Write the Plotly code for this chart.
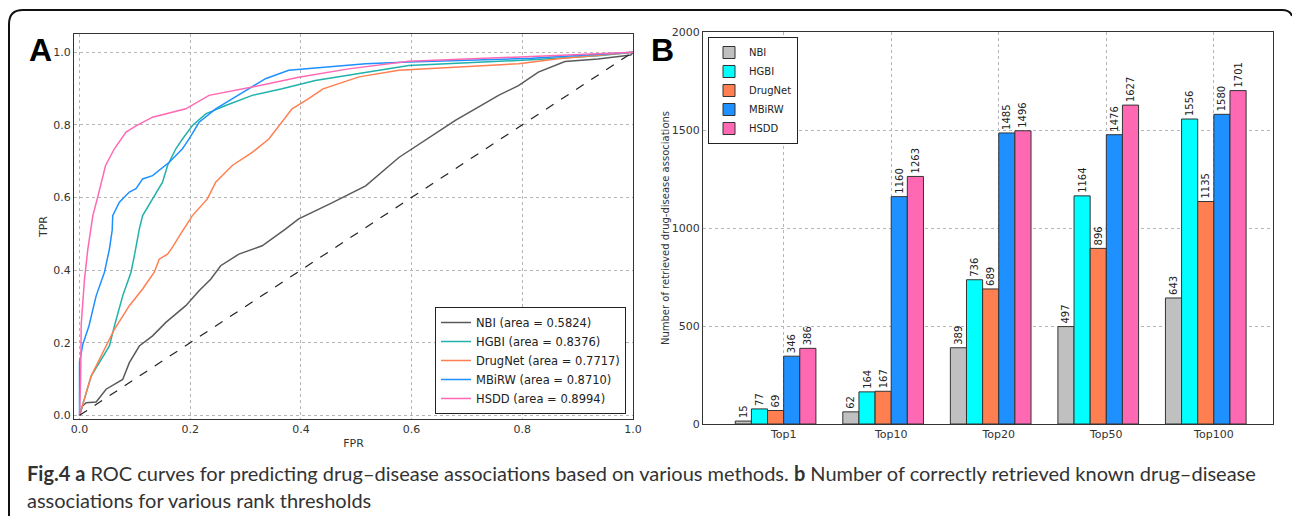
import plotly.graph_objects as go

W, H = 1292, 516

# ---------------- Panel A data (ROC curves) ----------------
NBI_FPR = [0, 0.005, 0.012, 0.030, 0.048, 0.078, 0.090, 0.108, 0.132, 0.156, 0.192, 0.216,
           0.237, 0.255, 0.288, 0.330, 0.372, 0.396, 0.456, 0.517, 0.577, 0.637, 0.679, 0.715,
           0.757, 0.793, 0.829, 0.877, 0.937, 0.996, 1.0]
NBI_TPR = [0, 0.025, 0.035, 0.037, 0.072, 0.099, 0.145, 0.191, 0.219, 0.256, 0.302, 0.343,
           0.375, 0.412, 0.444, 0.467, 0.513, 0.541, 0.585, 0.632, 0.710, 0.770, 0.812, 0.844,
           0.881, 0.908, 0.945, 0.974, 0.981, 0.992, 1.0]

HGBI_FPR = [0, 0.021, 0.054, 0.063, 0.078, 0.093, 0.099, 0.108, 0.114, 0.132, 0.150, 0.159,
            0.174, 0.186, 0.204, 0.228, 0.264, 0.312, 0.366, 0.426, 0.517, 0.595, 0.817, 0.937, 1.0]
HGBI_TPR = [0, 0.108, 0.191, 0.246, 0.329, 0.394, 0.439, 0.513, 0.550, 0.596, 0.642, 0.688,
            0.734, 0.761, 0.798, 0.830, 0.853, 0.881, 0.899, 0.922, 0.945, 0.963, 0.979, 0.990, 1.0]

DRUGNET_FPR = [0, 0.021, 0.033, 0.048, 0.063, 0.090, 0.114, 0.135, 0.144, 0.159, 0.168, 0.185,
               0.204, 0.231, 0.246, 0.276, 0.312, 0.342, 0.366, 0.384, 0.414, 0.440, 0.505,
               0.577, 0.793, 0.865, 1.0]
DRUGNET_TPR = [0, 0.108, 0.145, 0.191, 0.237, 0.302, 0.348, 0.394, 0.430, 0.444, 0.463, 0.505,
               0.550, 0.596, 0.642, 0.688, 0.724, 0.761, 0.807, 0.844, 0.872, 0.899, 0.932,
               0.950, 0.968, 0.982, 1.0]

MBIRW_FPR = [0, 0.0, 0.006, 0.017, 0.030, 0.045, 0.054, 0.059, 0.060, 0.072, 0.090, 0.102,
             0.114, 0.132, 0.162, 0.186, 0.198, 0.216, 0.246, 0.276, 0.309, 0.336, 0.378,
             0.456, 0.517, 0.595, 0.817, 1.0]
MBIRW_TPR = [0, 0.146, 0.196, 0.246, 0.329, 0.394, 0.458, 0.510, 0.550, 0.587, 0.615, 0.624,
             0.651, 0.660, 0.697, 0.734, 0.761, 0.807, 0.844, 0.872, 0.904, 0.927, 0.950,
             0.959, 0.968, 0.973, 0.983, 1.0]

HSDD_FPR = [0, 0.002, 0.003, 0.009, 0.015, 0.021, 0.024, 0.032, 0.039, 0.047, 0.063, 0.084,
            0.102, 0.132, 0.192, 0.234, 0.312, 0.396, 0.486, 0.595, 0.817, 1.0]
HSDD_TPR = [0, 0.100, 0.250, 0.375, 0.458, 0.513, 0.550, 0.596, 0.642, 0.688, 0.734, 0.780,
            0.797, 0.821, 0.844, 0.881, 0.904, 0.931, 0.954, 0.975, 0.988, 1.0]

DIAG = [0, 1]

ROC_NAMES = ["NBI", "HGBI", "DrugNet", "MBiRW", "HSDD"]
ROC_AUC = ["0.5824", "0.8376", "0.7717", "0.8710", "0.8994"]
ROC_COLORS = ["#5a5a5a", "#20b2aa", "#ff7f50", "#1e90ff", "#ff69b4"]

# ---------------- Panel B data (bars) ----------------
CATEGORIES = ["Top1", "Top10", "Top20", "Top50", "Top100"]
NBI_COUNTS = [15, 62, 389, 497, 643]
HGBI_COUNTS = [77, 164, 736, 1164, 1556]
DRUGNET_COUNTS = [69, 167, 689, 896, 1135]
MBIRW_COUNTS = [346, 1160, 1485, 1476, 1580]
HSDD_COUNTS = [386, 1263, 1496, 1627, 1701]
BAR_COLORS = ["#c0c0c0", "#00ffff", "#ff7f50", "#1e90ff", "#ff69b4"]

CAPTION_1 = ("<b>Fig.4 a</b> ROC curves for predicting drug\u2013disease associations based on various "
             "methods. <b>b</b> Number of correctly retrieved known drug\u2013disease")
CAPTION_2 = "associations for various rank thresholds"

PLOT_FONT = "DejaVu Sans"

fig = go.Figure()

roc_data = [(NBI_FPR, NBI_TPR), (HGBI_FPR, HGBI_TPR), (DRUGNET_FPR, DRUGNET_TPR),
            (MBIRW_FPR, MBIRW_TPR), (HSDD_FPR, HSDD_TPR)]
for (fx, ty), name, auc, col in zip(roc_data, ROC_NAMES, ROC_AUC, ROC_COLORS):
    fig.add_trace(go.Scatter(x=fx, y=ty, mode="lines", name=f"{name} (area = {auc})",
                             line=dict(color=col, width=1.5), xaxis="x", yaxis="y",
                             legend="legend"))
fig.add_trace(go.Scatter(x=DIAG, y=DIAG, mode="lines", showlegend=False,
                         line=dict(color="#222222", width=1.2, dash="dash"),
                         xaxis="x", yaxis="y"))

bar_series = [NBI_COUNTS, HGBI_COUNTS, DRUGNET_COUNTS, MBIRW_COUNTS, HSDD_COUNTS]
for j, (vals, name, col) in enumerate(zip(bar_series, ROC_NAMES, BAR_COLORS)):
    fig.add_trace(go.Bar(x=CATEGORIES, y=vals, name=name, width=0.15, offset=-0.45 + 0.15 * j,
                         marker=dict(color=col, line=dict(color="#333333", width=1)),
                         texttemplate="%{y}", textposition="outside", textangle=-90,
                         textfont=dict(family=PLOT_FONT, size=10, color="#222222"),
                         constraintext="none", cliponaxis=False,
                         xaxis="x2", yaxis="y2", legend="legend2"))

def px_x(p):
    return p / W

def px_y(p):
    return 1 - p / H

axis_common = dict(showline=True, mirror=True, linecolor="#333333", linewidth=1,
                   showgrid=True, gridcolor="#b5b5b5", griddash="dot", gridwidth=1,
                   zeroline=False, ticks="", automargin=False,
                   tickfont=dict(family=PLOT_FONT, size=11, color="#333333"))

fig.update_layout(
    template="none",
    width=W, height=H,
    margin=dict(l=0, r=0, t=0, b=0, pad=0, autoexpand=False),
    paper_bgcolor="white", plot_bgcolor="white",
    barmode="overlay",
    font=dict(family=PLOT_FONT, color="#333333"),
    xaxis=dict(domain=[px_x(74), px_x(633)], range=[-0.01, 1.0], anchor="y",
               tickvals=[0, 0.2, 0.4, 0.6, 0.8, 1.0], tickformat=".1f",
               title=dict(text="FPR", font=dict(size=11), standoff=4), **axis_common),
    yaxis=dict(domain=[px_y(419), px_y(34)], range=[-0.01, 1.05], anchor="x",
               tickvals=[0, 0.2, 0.4, 0.6, 0.8, 1.0], tickformat=".1f",
               title=dict(text="TPR", font=dict(size=11), standoff=3), **axis_common),
    xaxis2=dict(domain=[px_x(703), px_x(1273)], range=[-0.75, 4.55], anchor="y2",
                type="category", **axis_common),
    yaxis2=dict(domain=[px_y(424), px_y(32)], range=[0, 2000], anchor="x2",
                tickvals=[0, 500, 1000, 1500, 2000],
                title=dict(text="Number of retrieved drug-disease associations",
                           font=dict(size=10), standoff=0), **axis_common),
    legend=dict(x=px_x(435), y=px_y(414), xanchor="left", yanchor="bottom",
                bgcolor="white", bordercolor="#222222", borderwidth=1,
                font=dict(family=PLOT_FONT, size=11.5, color="#222222"),
                tracegroupgap=0, itemwidth=30),
    legend2=dict(x=px_x(708), y=px_y(37), xanchor="left", yanchor="top",
                 bgcolor="white", bordercolor="#222222", borderwidth=1,
                 font=dict(family=PLOT_FONT, size=10, color="#222222"),
                 tracegroupgap=0, itemwidth=30),
    showlegend=True,
)

# panel letters
fig.add_annotation(text="<b>A</b>", x=px_x(40), y=px_y(50), xref="paper", yref="paper",
                   xanchor="center", yanchor="middle",
                   showarrow=False, font=dict(family="Liberation Sans", size=32, color="#000000"))
fig.add_annotation(text="<b>B</b>", x=px_x(662), y=px_y(50), xref="paper", yref="paper",
                   xanchor="center", yanchor="middle",
                   showarrow=False, font=dict(family="Liberation Sans", size=32, color="#000000"))

# caption
fig.add_annotation(text=CAPTION_1, x=px_x(25), y=px_y(473), xref="paper", yref="paper",
                   xanchor="left", yanchor="middle", showarrow=False,
                   font=dict(family="Lato", size=20, color="#333333"))
fig.add_annotation(text=CAPTION_2, x=px_x(25), y=px_y(500), xref="paper", yref="paper",
                   xanchor="left", yanchor="middle", showarrow=False,
                   font=dict(family="Lato", size=20, color="#333333"))

# rounded frame (left + top edges)
x0, x1 = px_x(9), px_x(1292)
yt = px_y(10)
rx, ry = 14 / W, 14 / H
frame = (f"M {x0},0 L {x0},{yt - ry} Q {x0},{yt} {x0 + rx},{yt} "
         f"L {x1 - 10 / W},{yt} Q {x1 - 2 / W},{yt} {x1},{yt - 6 / H}")
fig.add_shape(type="path", path=frame, xref="paper", yref="paper",
              line=dict(color="#111111", width=2))

fig.write_html("out.html", config={"displayModeBar": False},
               post_script="document.body.style.margin='0';document.body.style.overflow='hidden';")
